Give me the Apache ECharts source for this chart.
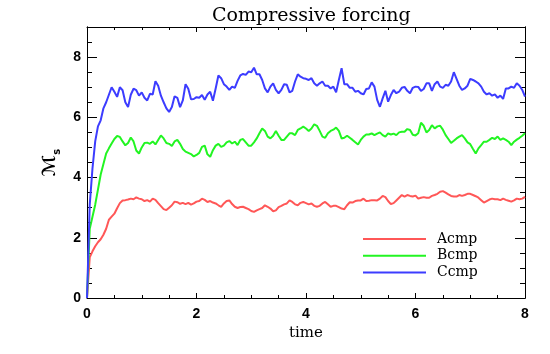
<!DOCTYPE html>
<html>
<head>
<meta charset="utf-8">
<script src="https://cdn.jsdelivr.net/npm/echarts@6/dist/echarts.min.js"></script>
<style>
  html, body { margin: 0; padding: 0; background: #fff; }
  #chart { width: 550px; height: 354px; }
</style>
</head>
<body>
<div id="chart"></div>
<script>
// simulation output every 0.05 time units, t = 0 .. 8
const step = 0.05;
const names = ['Acmp', 'Bcmp', 'Ccmp'];
const colors = ['#ff5757', '#22f522', '#3c3cff'];

const acmp = [
  0, 1.35, 1.55, 1.72, 1.85, 1.95, 2.1, 2.3, 2.6, 2.7,
  2.8, 2.98, 3.15, 3.24, 3.25, 3.27, 3.3, 3.28, 3.34, 3.3,
  3.28, 3.22, 3.25, 3.2, 3.3, 3.26, 3.15, 3.05, 2.95, 2.92,
  3.0, 3.08, 3.2, 3.18, 3.13, 3.16, 3.12, 3.16, 3.1, 3.14,
  3.2, 3.22, 3.3, 3.26, 3.19, 3.22, 3.17, 3.14, 3.08, 3.03,
  3.14, 3.22, 3.24, 3.12, 3.03, 2.99, 3.02, 3.03, 2.99, 2.95,
  2.89, 2.86, 2.91, 2.95, 2.99, 3.08, 3.03, 2.97, 2.88, 2.91,
  3.02, 3.06, 3.11, 3.14, 3.24, 3.19, 3.11, 3.08, 3.16, 3.19,
  3.15, 3.11, 3.14, 3.06, 3.03, 3.06, 3.14, 3.19, 3.11, 3.03,
  3.06, 3.06, 3.02, 2.97, 2.95, 3.08, 3.18, 3.17, 3.22, 3.24,
  3.24, 3.3, 3.22, 3.23, 3.25, 3.25, 3.24, 3.3, 3.39, 3.35,
  3.22, 3.12, 3.15, 3.24, 3.33, 3.42, 3.37, 3.42, 3.39, 3.37,
  3.4, 3.3, 3.33, 3.35, 3.33, 3.33, 3.39, 3.42, 3.46, 3.53,
  3.55, 3.5, 3.44, 3.39, 3.37, 3.37, 3.42, 3.39, 3.42, 3.46,
  3.46, 3.42, 3.38, 3.33, 3.25, 3.17, 3.22, 3.27, 3.3, 3.28,
  3.28, 3.25, 3.3, 3.26, 3.23, 3.2, 3.24, 3.3, 3.28, 3.3,
  3.36
];

const bcmp = [
  0, 2.3, 2.7, 3.1, 3.6, 4.1, 4.45, 4.8, 4.97, 5.13,
  5.28, 5.38, 5.35, 5.2, 5.07, 5.15, 5.33, 5.2, 4.9, 4.8,
  5.0, 5.15, 5.16, 5.12, 5.2, 5.1, 5.25, 5.4, 5.3, 5.15,
  5.12, 5.05, 5.2, 5.25, 5.12, 4.95, 4.86, 4.82, 4.78, 4.7,
  4.75, 4.82, 5.02, 5.06, 4.77, 4.69, 4.91, 5.06, 5.12, 5.02,
  5.06, 5.17, 5.21, 5.13, 5.19, 5.08, 5.25, 5.28, 5.17, 5.06,
  5.06, 5.17, 5.3, 5.47, 5.63, 5.55, 5.36, 5.3, 5.39, 5.55,
  5.39, 5.25, 5.25, 5.36, 5.47, 5.47, 5.41, 5.58, 5.63, 5.69,
  5.63, 5.55, 5.63, 5.77, 5.72, 5.55, 5.36, 5.32, 5.47, 5.55,
  5.59, 5.66, 5.55, 5.3, 5.32, 5.39, 5.32, 5.25, 5.17, 5.1,
  5.25, 5.36, 5.43, 5.43, 5.47, 5.41, 5.46, 5.5, 5.41, 5.36,
  5.47, 5.43, 5.46, 5.41, 5.5, 5.52, 5.52, 5.61, 5.58, 5.42,
  5.4, 5.47, 5.82, 5.72, 5.5, 5.58, 5.74, 5.63, 5.7, 5.72,
  5.59, 5.41, 5.28, 5.15, 5.22, 5.3, 5.36, 5.41, 5.3, 5.17,
  5.11, 4.95, 4.8, 4.97, 5.08, 5.19, 5.19, 5.25, 5.32, 5.28,
  5.36, 5.25, 5.3, 5.25, 5.19, 5.08, 5.19, 5.26, 5.32, 5.39,
  5.47
];

const ccmp = [
  0, 3.1, 4.3, 5.2, 5.7, 5.9, 6.3, 6.5, 6.75, 7.0,
  6.85, 6.68, 7.0, 6.9, 6.5, 6.34, 6.75, 6.95, 6.9, 6.72,
  6.83, 6.65, 6.56, 6.78, 6.76, 7.2, 7.05, 6.72, 6.5, 6.3,
  6.18, 6.34, 6.7, 6.65, 6.34, 6.56, 7.1, 6.95, 6.6, 6.61,
  6.67, 6.65, 6.74, 6.58, 6.76, 6.85, 6.55, 6.96, 7.39, 7.3,
  7.1, 7.02, 6.91, 7.02, 6.98, 7.21, 7.39, 7.44, 7.41, 7.52,
  7.5, 7.65, 7.43, 7.43, 7.24, 6.96, 6.83, 7.02, 7.13, 6.91,
  6.8, 6.91, 7.1, 7.08, 6.83, 6.88, 7.19, 7.43, 7.35, 7.3,
  7.28, 7.24, 7.3, 7.13, 7.05, 7.13, 7.19, 7.05, 7.05, 6.96,
  7.02, 6.83, 7.24, 7.63, 7.1, 7.1, 6.98, 6.98, 6.85, 6.88,
  6.8, 6.76, 6.94, 6.96, 7.16, 7.02, 6.58, 6.35, 6.63, 6.88,
  6.52, 6.74, 6.91, 6.8, 6.85, 6.98, 7.01, 6.88, 6.8, 6.98,
  7.02, 7.01, 6.88, 6.94, 7.13, 7.13, 6.88, 7.1, 7.19, 7.02,
  6.98, 7.08, 7.05, 7.19, 7.5, 7.28, 7.05, 6.91, 6.96, 7.05,
  7.28, 7.24, 7.19, 7.13, 7.02, 6.85, 6.76, 6.8, 6.72, 6.76,
  6.65, 6.72, 6.61, 6.96, 6.96, 7.02, 6.98, 7.13, 7.05, 6.91,
  6.69
];

const values = [acmp, bcmp, ccmp];

function toPairs(arr) {
  return arr.map((v, i) => [+(i * step).toFixed(2), v]);
}

const black = '#000';
const noSplit = { show: false };

function xAx(pos) {
  return {
    type: 'value', position: pos, min: 0, max: 8, interval: 2,
    axisLine: { show: true, onZero: false, lineStyle: { color: black, width: 1 } },
    axisTick: { show: true, inside: true, length: 5, lineStyle: { color: black } },
    minorTick: { show: true, splitNumber: 4, length: 3, lineStyle: { color: black } },
    splitLine: noSplit, minorSplitLine: noSplit,
    axisLabel: {
      show: pos === 'bottom', margin: 9, color: black, fontSize: 14,
      fontWeight: 'bold', fontFamily: 'Liberation Sans'
    },
    name: pos === 'bottom' ? 'time' : '',
    nameLocation: 'middle', nameGap: 25,
    nameTextStyle: { fontFamily: 'DejaVu Serif', fontSize: 15, color: black }
  };
}

function yAx(pos, interval, len, labels) {
  return {
    type: 'value', position: pos, min: 0, max: 9, interval: interval,
    axisLine: { show: true, onZero: false, lineStyle: { color: black, width: 1 } },
    axisTick: { show: true, inside: true, length: len, lineStyle: { color: black } },
    splitLine: noSplit,
    axisLabel: {
      show: labels, showMaxLabel: false, margin: 6, color: black, fontSize: 14,
      fontWeight: 'bold', fontFamily: 'Liberation Sans'
    },
    name: labels ? '{m|ℳ}{s|s}' : '',
    nameLocation: 'middle', nameGap: 19,
    nameTextStyle: {
      color: black,
      rich: {
        m: { fontFamily: 'DejaVu Sans', fontSize: 18, fontWeight: 'bold', lineHeight: 24, color: black },
        s: { fontFamily: 'DejaVu Sans', fontSize: 10, fontWeight: 'bold', verticalAlign: 'bottom', lineHeight: 24, color: black }
      }
    }
  };
}

const chart = echarts.init(document.getElementById('chart'), null, { renderer: 'canvas' });

chart.setOption({
  animation: false,
  backgroundColor: '#fff',
  title: {
    text: 'Compressive forcing', left: 207, top: 2,
    textStyle: { fontFamily: 'DejaVu Serif', fontSize: 19, fontWeight: 'normal', color: black }
  },
  grid: { left: 87, right: 25, top: 27, bottom: 56, containLabel: false, outerBoundsMode: 'none' },
  legend: {
    orient: 'vertical', left: 363, top: 231, padding: 0,
    icon: 'rect', itemWidth: 63, itemHeight: 2, itemGap: 0.7,
    data: names,
    textStyle: { fontFamily: 'DejaVu Serif', fontSize: 14, color: black, lineHeight: 16, padding: [0, 0, 0, 6] }
  },
  xAxis: [xAx('bottom'), xAx('top')],
  yAxis: [
    yAx('left', 2, 10, true),
    yAx('left', 0.5, 5, false),
    yAx('right', 2, 10, false),
    yAx('right', 0.5, 5, false)
  ],
  series: names.map((n, i) => ({
    name: n,
    type: 'line',
    xAxisIndex: 0,
    yAxisIndex: 0,
    showSymbol: false,
    symbol: 'none',
    color: colors[i],
    lineStyle: { width: 2, color: colors[i] },
    data: toPairs(values[i])
  }))
});
</script>
</body>
</html>
